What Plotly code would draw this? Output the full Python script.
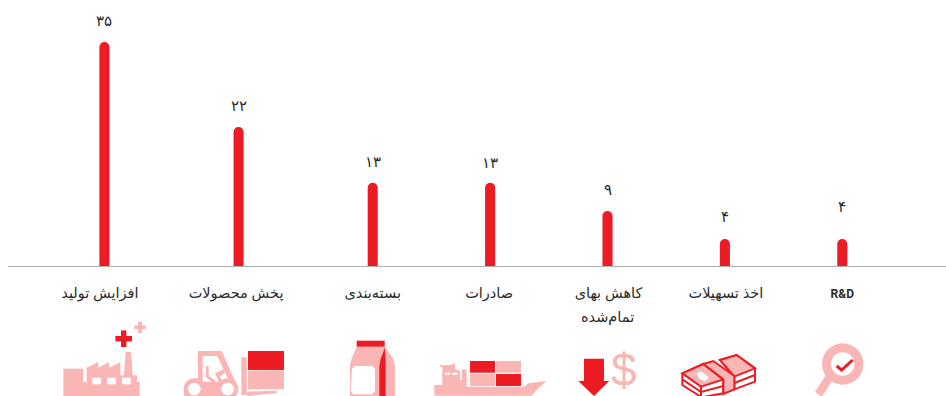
import plotly.graph_objects as go

categories = ["افزایش تولید", "پخش محصولات", "بسته‌بندی", "صادرات", "کاهش بهای", "اخذ تسهیلات",
              '<span style="font-size:12px;font-family:Roboto"><b>R&D</b></span>']
wrapped = {4: "تمام‌شده"}
values = [35, 21.7, 13, 13, 8.6, 4.2, 4.2]
value_labels = [35, 22, 13, 13, 9, 4, 4]
slots = [0, 8, 16, 23, 30, 37, 44]

RED = "#ED1C24"
PINK = "#FAB6B4"
INK = "#2B2A29"
FONT = "Noto Sans, DejaVu Sans, sans-serif"

W, H, BOTTOM, LEFT = 946, 396, 130, 8
AXIS_H = H - BOTTOM
UNIT = 16.77
ORIGIN = 104.4
label_lift = [10, 10, 10, 9, 10, 11, 21]
label_nudge = [-4.5, -2.5, 0, -1, 1, 1, 0]


def fa(n):
    return str(n).translate(str.maketrans("0123456789", "۰۱۲۳۴۵۶۷۸۹"))


def X(p):
    return (p - LEFT) / (W - LEFT)


def Y(p):
    return (AXIS_H - p) / AXIS_H


shapes = []


def poly(pts, fill=PINK, line=None, lw=0, close=True, org=(0, 0), k=1.0):
    d = ""
    for i, (a, b) in enumerate(pts):
        d += ("M" if i == 0 else "L") + f"{X(org[0] + a * k):.5f},{Y(org[1] + b * k):.5f} "
    if close:
        d += "Z"
    shapes.append(dict(type="path", path=d, xref="paper", yref="paper",
                       fillcolor=fill if close else "rgba(0,0,0,0)",
                       line=dict(color=line or "rgba(0,0,0,0)", width=lw)))


def rect(x0, y0, x1, y1, fill=PINK):
    poly([(x0, y0), (x1, y0), (x1, y1), (x0, y1)], fill)


def circle(cx, cy, r, fill=PINK):
    shapes.append(dict(type="circle", xref="paper", yref="paper",
                       x0=X(cx - r), x1=X(cx + r), y0=Y(cy + r), y1=Y(cy - r),
                       fillcolor=fill, line=dict(width=0)))


def plus(cx, cy, a, b, fill):
    rect(cx - a, cy - b, cx + a, cy + b, fill)
    rect(cx - b, cy - a, cx + b, cy + a, fill)


# factory
o = (55, 316)
k = 1 / 3
poly([(25, 240), (25, 158), (85, 158), (85, 198), (95, 198), (95, 155), (130, 138), (130, 155), (163, 138),
      (163, 155), (196, 138), (196, 178), (207, 178), (212, 107), (228, 107), (233, 178), (246, 178),
      (246, 198), (254, 198), (254, 240)], PINK, org=o, k=k)
for x0 in (92.3, 107, 122):
    rect(x0, 377.7, x0 + 8.7, 384.3, "white")
plus(123.7, 338.7, 8.3, 2.7, RED)
plus(140, 327.3, 5.7, 1.9, PINK)

# forklift
o = (180, 340)
rect(248, 351, 284, 370, RED)
rect(248, 370.4, 284, 389.3, PINK)
rect(241.3, 357.3, 246.7, 395, PINK)
poly([(200, 155), (290, 152), (290, 160), (200, 168)], PINK, org=o, k=k)
poly([(54, 33), (125, 33), (168, 130), (168, 168), (12, 168), (12, 145), (25, 122), (54, 115)], PINK, org=o, k=k)
poly([(68, 48), (112, 48), (150, 130), (130, 125), (68, 125)], "white", org=o, k=k)
poly([(78, 78), (86, 78), (86, 108), (108, 122), (100, 128), (78, 112)], PINK, org=o, k=k)
poly([(105, 100), (130, 88), (135, 100), (120, 108), (128, 125), (118, 128)], PINK, org=o, k=k)
for cx in (194.3, 227.7):
    circle(cx, 389, 10.7, PINK)
    circle(cx, 389, 6.3, "white")

# bag
o = (340, 336)
poly([(50, 32), (134, 32), (158, 65), (165, 90), (165, 185), (30, 185), (30, 85), (36, 65)], PINK, org=o, k=k)
rect(356.7, 340.7, 384.7, 346.7, RED)
poly([(135, 35), (122, 68), (118, 90), (118, 185), (137, 185), (137, 80)], RED, org=o, k=k)
poly([(44, 90), (96, 90), (105, 98), (105, 166), (96, 175), (40, 175), (32, 166), (36, 98)], "white", org=o, k=k)

# ship
o = (430, 350)
poly([(13, 137), (13, 105), (37, 105), (37, 52), (30, 50), (30, 46), (65, 45), (65, 41), (75, 41), (75, 58),
      (90, 62), (90, 90), (95, 90), (95, 62), (102, 56), (110, 62), (110, 110), (283, 110), (295, 100),
      (350, 93), (325, 115), (305, 137)], PINK, org=o, k=k)
rect(445, 372.7, 450, 374.9, "white")
rect(452, 372.7, 457.7, 374.9, "white")
rect(470, 361, 495, 372.7, RED)
rect(496, 361, 521, 372.7, PINK)
rect(470, 374, 495, 386, PINK)
rect(496, 374, 521, 386, RED)

# arrow
poly([(584, 358.7), (604, 358.7), (604, 381), (609.3, 381), (594, 396), (578.3, 381), (584, 381)], RED)

# banknotes
o = (675, 350)
poly([(135, 30), (185, 15), (240, 55), (240, 95), (178, 118), (178, 80)], "white", RED, 2, org=o, k=k)
poly([(135, 30), (185, 15), (240, 55), (178, 80)], PINK, RED, 2, org=o, k=k)
poly([(178, 99), (240, 75)], line=RED, lw=2, close=False, org=o, k=k)
poly([(22, 70), (22, 105), (80, 142), (145, 130), (145, 90), (85, 42)], "white", RED, 2, org=o, k=k)
poly([(22, 70), (85, 42), (145, 88), (78, 110)], PINK, RED, 2, org=o, k=k)
poly([(22, 88), (78, 126), (145, 108)], line=RED, lw=2, close=False, org=o, k=k)
poly([(78, 110), (78, 142)], line=RED, lw=2, close=False, org=o, k=k)
poly([(85, 42), (115, 33), (178, 78), (178, 118), (145, 132), (145, 88)], PINK, RED, 2, org=o, k=k)
poly([(65, 70), (78, 64), (98, 78), (100, 88), (88, 94), (70, 84)], "white", org=o, k=k)

# magnifier
o = (810, 340)
poly([(48, 105), (68, 120), (35, 170), (15, 155)], PINK, org=o, k=k)
circle(842.7, 364, 20.7, PINK)
circle(842.7, 364, 11.7, "white")
poly([(80, 78), (95, 90), (128, 60)], line=RED, lw=3, close=False, org=o, k=k)

annotations = [
    dict(x=s, y=v, xref="x", yref="y", text=fa(t), showarrow=False, yanchor="bottom", yshift=lift,
         font=dict(family=FONT, size=15, color=INK))
    for s, v, t, lift in zip(slots, values, value_labels, label_lift)
]
for i, txt in wrapped.items():
    annotations.append(dict(x=slots[i], y=Y(316), xref="x", yref="paper", text=txt, showarrow=False,
                            yanchor="middle", font=dict(family=FONT, size=14.5, color=INK)))
annotations.append(dict(x=X(624), y=Y(369.5), xref="paper", yref="paper", text="$", showarrow=False,
                        yanchor="middle", xanchor="center",
                        font=dict(family="Liberation Sans", size=46, color=PINK)))

fig = go.Figure(go.Bar(x=slots, y=values, width=0.6, marker=dict(color=RED, line=dict(width=0)), hoverinfo="skip"))
fig.update_layout(
    width=W, height=H, margin=dict(l=LEFT, r=0, t=0, b=BOTTOM),
    paper_bgcolor="white", plot_bgcolor="white", showlegend=False,
    barcornerradius=5, shapes=shapes, annotations=annotations,
    xaxis=dict(range=[(LEFT - ORIGIN) / UNIT, (W - ORIGIN) / UNIT], tickmode="array",
               tickvals=[s + n / UNIT for s, n in zip(slots, label_nudge)],
               ticktext=categories, showgrid=False, zeroline=False, showline=True, linecolor="#AEAEAE",
               linewidth=1, ticks="outside", ticklen=14, tickcolor="rgba(0,0,0,0)", tickangle=0,
               tickfont=dict(family=FONT, size=14.5, color=INK)),
    yaxis=dict(range=[0, AXIS_H / 6.4], visible=False),
)
fig.write_html("out.html", config={"displayModeBar": False}, post_script="document.body.style.margin='0';")
